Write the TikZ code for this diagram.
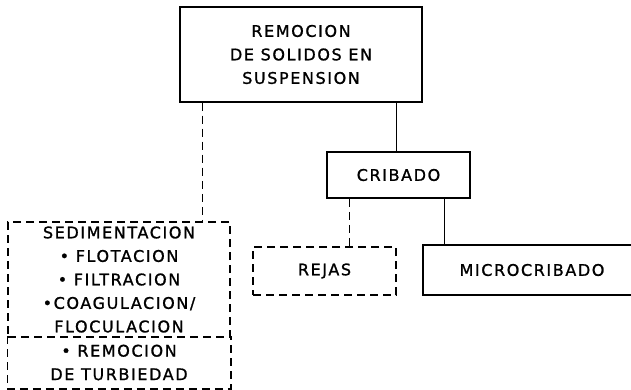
\documentclass[tikz,border=0pt]{standalone}
\usepackage{fontspec}
\setmainfont{DejaVu Sans}[LetterSpace=10,FakeBold=1.2]
\begin{document}
\begin{tikzpicture}[x=1pt,y=-1pt,
  box/.style={draw,line width=1.5pt,inner sep=0pt,align=center,font=\fontsize{16}{23.5}\selectfont},
  dbox/.style={box,dash pattern=on 8pt off 5pt},
  conn/.style={line width=1.5pt},
  dconn/.style={conn,dash pattern=on 8pt off 5pt}]
\useasboundingbox (0,0) rectangle (631,390);
\clip (0,0) rectangle (631,390);
\node[box,minimum width=242pt,minimum height=95pt] (rem) at (301,54.5) {REMOCION\\DE SOLIDOS EN\\SUSPENSION};
\node[box,minimum width=143pt,minimum height=46pt] (crib) at (398.5,175) {CRIBADO};
\node[dbox,minimum width=143pt,minimum height=48pt] (rejas) at (324.5,271) {REJAS};
\node[box,minimum width=218pt,minimum height=50pt] (micro) at (532,270) {MICROCRIBADO};
\node[dbox,minimum width=222pt,minimum height=115pt] (sed) at (119,279.5) {SEDIMENTACION\\• FLOTACION\\• FILTRACION\\•COAGULACION/\\FLOCULACION};
\node[box,draw=none,minimum width=222pt,minimum height=51pt] (turb) at (119,362.5) {• REMOCION\\DE TURBIEDAD};
\draw[dconn] (turb.north west) -- (turb.south west) -- (turb.south east) -- (turb.north east);
\draw[dconn] ([xshift=23pt]rem.south west) -- ([xshift=195pt]sed.north west);
\draw[conn] ([xshift=217pt]rem.south west) -- ([xshift=70pt]crib.north west);
\draw[dconn] ([xshift=23pt]crib.south west) -- ([xshift=97pt]rejas.north west);
\draw[conn] ([xshift=118pt]crib.south west) -- ([xshift=22pt]micro.north west);
\end{tikzpicture}
\end{document}
